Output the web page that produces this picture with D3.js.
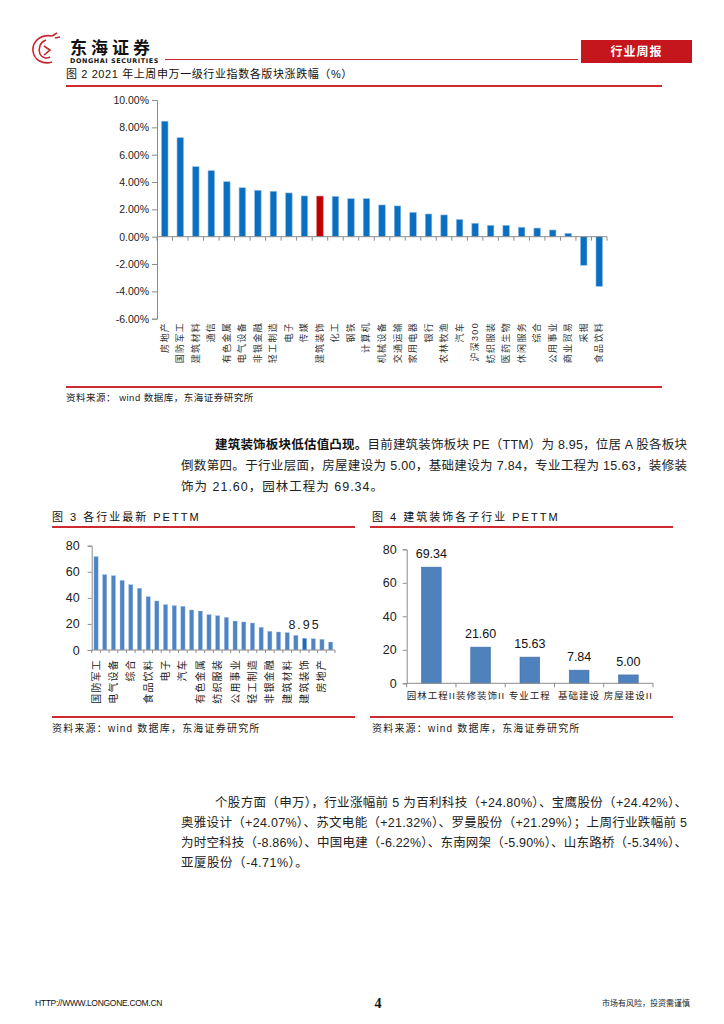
<!DOCTYPE html>
<html>
<head>
<meta charset="utf-8">
<script src="https://cdn.jsdelivr.net/npm/d3@7"></script>
<style>
  body { margin: 0; background: #fff; }
  svg { display: block; }
</style>
</head>
<body>
<script>
"use strict";

// fig 2 - weekly change by SW level-1 industry (%)
var fig2Cats = ["房地产","国防军工","建筑材料","通信","有色金属","电气设备","非银金融","轻工制造","电子","传媒",
                "建筑装饰","化工","钢铁","计算机","机械设备","交通运输","家用电器","银行","农林牧渔","汽车",
                "沪深300","纺织服装","医药生物","休闲服务","综合","公用事业","商业贸易","采掘","食品饮料"];
var fig2Vals = [8.45,7.24,5.12,4.83,4.02,3.58,3.39,3.32,3.20,2.98,
                2.97,2.95,2.78,2.78,2.32,2.25,1.78,1.66,1.59,1.25,
                0.98,0.83,0.83,0.69,0.63,0.49,0.24,-2.09,-3.63];
var fig2Ticks = [10,8,6,4,2,0,-2,-4,-6];

// fig 3 - latest PE TTM by industry
var fig3Cats = ["国防军工","休闲服务","电气设备","计算机","综合","医药生物","食品饮料","通信","电子","机械设备",
                "汽车","传媒","有色金属","农林牧渔","纺织服装","化工","公用事业","家用电器","轻工制造","商业贸易",
                "非银金融","交通运输","建筑材料","采掘","建筑装饰","钢铁","房地产","银行"];
var fig3Vals = [71.6,57.8,57.0,53.4,50.1,47.3,40.9,37.6,34.8,34.0,
                33.5,30.7,29.9,27.1,26.3,25.0,22.2,21.5,20.7,17.4,
                14.3,13.8,13.3,11.2,8.95,8.6,8.2,6.1];
var fig3Ticks = [0,20,40,60,80];

// fig 4 - PE TTM of building decoration sub-industries
var fig4Cats = ["园林工程II","装修装饰II","专业工程","基础建设","房屋建设II"];
var fig4Vals = [69.34,21.60,15.63,7.84,5.00];
var fig4Ticks = [0,20,40,60,80];

var W = 724, H = 1024;
var CJK = "'Liberation Sans','Noto Sans CJK SC',sans-serif";
var RED = "#cf2a2f";

var svg = d3.select("body").append("svg")
    .attr("width", W).attr("height", H)
    .style("font-family", CJK);

svg.append("rect").attr("width", W).attr("height", H).attr("fill", "#fff");

function txt(x, y, s, size, opt){
  opt = opt || {};
  var t = svg.append("text")
      .attr("x", x).attr("y", y)
      .attr("font-size", size)
      .attr("fill", opt.fill || "#222")
      .attr("text-anchor", opt.anchor || "start")
      .text(s);
  if (opt.weight) t.attr("font-weight", opt.weight);
  if (opt.ls) t.attr("letter-spacing", opt.ls);
  if (opt.len) t.attr("textLength", opt.len).attr("lengthAdjust", "spacing");
  if (opt.family) t.style("font-family", opt.family);
  return t;
}
function hline(x1, x2, y, col, w){
  svg.append("line").attr("x1", x1).attr("x2", x2).attr("y1", y).attr("y2", y)
     .attr("stroke", col).attr("stroke-width", w);
}

// ---- header ----
var logo = svg.append("g").attr("fill", "none").attr("stroke", "#c8262c").attr("stroke-width", 1.6);
logo.append("path").attr("d", "M52,36 C40,34 32,42 33,51 C34,60 43,65 52,62");
logo.append("path").attr("d", "M46,40 C40,42 38,48 40,54 C42,58 47,59 50,57");
logo.append("path").attr("d", "M44,46 L50,50 L44,55");
logo.append("path").attr("d", "M52,36 L57,33 M55,38 L60,37");
txt(70, 54, "东海证券", 17, {weight: "bold", fill: "#111", ls: 4});
txt(70, 63, "DONGHAI SECURITIES", 6.4, {weight: "bold", fill: "#111", ls: 0.6, family: "'DejaVu Sans',sans-serif"});
hline(165, 578, 59.5, "#c0262c", 1.2);
svg.append("rect").attr("x", 581).attr("y", 40).attr("width", 111).attr("height", 23).attr("fill", "#c4161c");
txt(636.5, 56, "行业周报", 12, {weight: "bold", fill: "#fff", anchor: "middle", ls: 1});

// ---- figure 2 ----
txt(66, 78, "图 2 2021 年上周申万一级行业指数各版块涨跌幅（%）", 11, {ls: 0.6, fill: "#111"});
hline(66, 662, 86, RED, 2);

var x2 = d3.scaleBand().domain(fig2Cats).range([157, 607]).paddingInner(0.58).paddingOuter(0.29);
var y2 = d3.scaleLinear().domain([-6, 10]).range([318.7, 100]);
var g2 = svg.append("g");

g2.append("g").attr("transform", "translate(157,0)")
  .call(d3.axisLeft(y2).tickValues(fig2Ticks).tickSize(5).tickFormat(function(d){ return d.toFixed(2) + "%"; }))
  .call(function(g){
    g.select(".domain").attr("stroke", "#8c8c8c");
    g.selectAll(".tick line").attr("stroke", "#8c8c8c");
    g.selectAll(".tick text").attr("font-size", 10.5).attr("fill", "#222")
      .style("font-family", "'Liberation Sans',sans-serif").attr("x", -8);
  });

g2.selectAll("rect.bar").data(fig2Vals).enter().append("rect")
  .attr("class", "bar")
  .attr("x", function(d, i){ return x2(fig2Cats[i]); })
  .attr("width", x2.bandwidth())
  .attr("y", function(d){ return y2(Math.max(0, d)); })
  .attr("height", function(d){ return Math.abs(y2(d) - y2(0)); })
  .attr("fill", function(d, i){ return fig2Cats[i] === "建筑装饰" ? "#c00000" : "#0a6ec1"; })
  .attr("stroke", function(d, i){ return fig2Cats[i] === "建筑装饰" ? "#e07070" : "#8fbde6"; })
  .attr("stroke-width", 0.6);

hline(157, 607, y2(0), "#8c8c8c", 1);
g2.selectAll("line.xt").data(d3.range(fig2Cats.length + 1)).enter().append("line")
  .attr("x1", function(i){ return 157 + i * x2.step(); })
  .attr("x2", function(i){ return 157 + i * x2.step(); })
  .attr("y1", y2(0)).attr("y2", y2(0) + 4)
  .attr("stroke", "#8c8c8c");

g2.selectAll("text.xl").data(fig2Cats).enter().append("text")
  .attr("transform", function(d){ return "translate(" + (x2(d) + x2.bandwidth() / 2) + ",322) rotate(-90)"; })
  .attr("text-anchor", "end")
  .attr("dominant-baseline", "central")
  .attr("font-size", 9)
  .attr("letter-spacing", 1.3)
  .attr("fill", "#333")
  .text(function(d){ return d; });

hline(66, 662, 387, RED, 2);
txt(66, 401, "资料来源： wind 数据库，东海证券研究所", 9.5, {ls: 0.5, fill: "#222"});

// ---- paragraph 1 ----
var p1 = txt(215, 449, "", 12.5, {fill: "#222", len: 472});
p1.append("tspan").attr("font-weight", "bold").attr("fill", "#111").text("建筑装饰板块低估值凸现。");
p1.append("tspan").text("目前建筑装饰板块 PE（TTM）为 8.95，位居 A 股各板块");
txt(181, 470, "倒数第四。于行业层面，房屋建设为 5.00，基础建设为 7.84，专业工程为 15.63，装修装", 12.5, {fill: "#222", len: 506});
txt(181, 491, "饰为 21.60，园林工程为 69.34。", 12.5, {fill: "#222", ls: 1});

// ---- figure 3 ----
txt(52, 521, "图 3 各行业最新 PETTM", 11, {ls: 2, fill: "#111"});
hline(52, 355, 527, RED, 2);

var x3 = d3.scaleBand().domain(fig3Cats).range([91.7, 335]).paddingInner(0.52).paddingOuter(0.26);
var y3 = d3.scaleLinear().domain([0, 80]).range([650, 545.7]);
var g3 = svg.append("g");

g3.append("g").attr("transform", "translate(91.7,0)")
  .call(d3.axisLeft(y3).tickValues(fig3Ticks).tickSize(4))
  .call(function(g){
    g.select(".domain").attr("stroke", "#8c8c8c");
    g.selectAll(".tick line").attr("stroke", "#8c8c8c");
    g.selectAll(".tick text").attr("font-size", 12.5).attr("fill", "#222")
      .style("font-family", "'Liberation Sans',sans-serif").attr("x", -12);
  });

g3.selectAll("rect.bar").data(fig3Vals).enter().append("rect")
  .attr("x", function(d, i){ return x3(fig3Cats[i]); })
  .attr("width", x3.bandwidth())
  .attr("y", function(d){ return y3(d); })
  .attr("height", function(d){ return y3(0) - y3(d); })
  .attr("fill", function(d, i){ return fig3Cats[i] === "建筑装饰" ? "#1f67b8" : "#4f84c4"; })
  .attr("stroke", "#9dbde6").attr("stroke-width", 0.4);

hline(91.7, 335, y3(0), "#8c8c8c", 1);
g3.selectAll("line.xt").data(d3.range(fig3Cats.length + 1)).enter().append("line")
  .attr("x1", function(i){ return 91.7 + i * x3.step(); })
  .attr("x2", function(i){ return 91.7 + i * x3.step(); })
  .attr("y1", y3(0)).attr("y2", y3(0) + 3)
  .attr("stroke", "#8c8c8c");

g3.selectAll("text.xl").data(fig3Cats.filter(function(d, i){ return i % 2 === 0; })).enter().append("text")
  .attr("transform", function(d){ return "translate(" + (x3(d) + x3.bandwidth() / 2) + ",659) rotate(-90)"; })
  .attr("text-anchor", "end")
  .attr("dominant-baseline", "central")
  .attr("font-size", 10)
  .attr("letter-spacing", 1.2)
  .attr("fill", "#222")
  .text(function(d){ return d; });

var hi3 = fig3Cats.indexOf("建筑装饰");
txt(x3(fig3Cats[hi3]) + x3.bandwidth() / 2, y3(fig3Vals[hi3]) - 9, fig3Vals[hi3].toFixed(2), 12.5,
    {anchor: "middle", ls: 2, fill: "#222"});

hline(52, 355, 717, RED, 2);
txt(52, 732, "资料来源：wind 数据库，东海证券研究所", 10, {ls: 1.2, fill: "#222"});

// ---- figure 4 ----
txt(372, 521, "图 4   建筑装饰各子行业 PETTM", 11, {ls: 2, fill: "#111"});
hline(370, 673, 527, RED, 2);

var x4 = d3.scaleBand().domain(fig4Cats).range([406.7, 653]).paddingInner(0.6).paddingOuter(0.3);
var y4 = d3.scaleLinear().domain([0, 80]).range([683.3, 549.3]);
var g4 = svg.append("g");

g4.append("g").attr("transform", "translate(406.7,0)")
  .call(d3.axisLeft(y4).tickValues(fig4Ticks).tickSize(4))
  .call(function(g){
    g.select(".domain").attr("stroke", "#8c8c8c");
    g.selectAll(".tick line").attr("stroke", "#8c8c8c");
    g.selectAll(".tick text").attr("font-size", 12.5).attr("fill", "#222")
      .style("font-family", "'Liberation Sans',sans-serif").attr("x", -10);
  });

g4.selectAll("rect.bar").data(fig4Vals).enter().append("rect")
  .attr("x", function(d, i){ return x4(fig4Cats[i]); })
  .attr("width", x4.bandwidth())
  .attr("y", function(d){ return y4(d); })
  .attr("height", function(d){ return y4(0) - y4(d); })
  .attr("fill", "#4f81bd")
  .attr("stroke", "#3f6fa8").attr("stroke-width", 0.6);

g4.selectAll("text.vl").data(fig4Vals).enter().append("text")
  .attr("x", function(d, i){ return x4(fig4Cats[i]) + x4.bandwidth() / 2; })
  .attr("y", function(d){ return y4(d) - 9; })
  .attr("text-anchor", "middle")
  .attr("font-size", 12.5)
  .attr("fill", "#111")
  .style("font-family", "'Liberation Sans',sans-serif")
  .text(function(d){ return d.toFixed(2); });

hline(406.7, 653, y4(0), "#8c8c8c", 1);
g4.selectAll("line.xt").data(d3.range(fig4Cats.length + 1)).enter().append("line")
  .attr("x1", function(i){ return 406.7 + i * x4.step(); })
  .attr("x2", function(i){ return 406.7 + i * x4.step(); })
  .attr("y1", y4(0)).attr("y2", y4(0) + 4)
  .attr("stroke", "#8c8c8c");

g4.selectAll("text.xl").data(fig4Cats).enter().append("text")
  .attr("x", function(d){ return x4(d) + x4.bandwidth() / 2; })
  .attr("y", 699)
  .attr("text-anchor", "middle")
  .attr("font-size", 9.5)
  .attr("letter-spacing", 1)
  .attr("fill", "#222")
  .text(function(d){ return d; });

hline(370, 673, 717, RED, 2);
txt(372, 732, "资料来源：wind 数据库，东海证券研究所", 10, {ls: 1.2, fill: "#222"});

// ---- paragraph 2 ----
txt(215, 807, "个股方面（申万），行业涨幅前 5 为百利科技（+24.80%）、宝鹰股份（+24.42%）、", 12.5, {fill: "#222", len: 472});
txt(181, 827, "奥雅设计（+24.07%）、苏文电能（+21.32%）、罗曼股份（+21.29%）；上周行业跌幅前 5", 12.5, {fill: "#222", len: 506});
txt(181, 847, "为时空科技（-8.86%）、中国电建（-6.22%）、东南网架（-5.90%）、山东路桥（-5.34%）、", 12.5, {fill: "#222", len: 506});
txt(181, 867, "亚厦股份（-4.71%）。", 12.5, {fill: "#222", ls: 0.5});

// ---- footer ----
txt(35, 1006, "HTTP://WWW.LONGONE.COM.CN", 8.5, {fill: "#111", family: "'Liberation Sans',sans-serif", ls: -0.3});
txt(378, 1008, "4", 14, {fill: "#111", weight: "bold", anchor: "middle", family: "'Liberation Serif',serif"});
txt(690, 1006, "市场有风险，投资需谨慎", 8, {fill: "#222", anchor: "end"});
</script>
</body>
</html>
